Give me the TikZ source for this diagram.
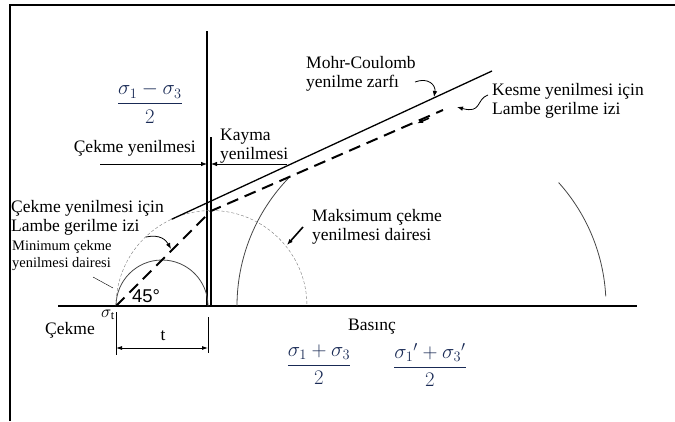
\documentclass[tikz,border=0pt]{standalone}
\usepackage{fontspec}
\setmainfont{Liberation Serif}
\setsansfont{Liberation Sans}
\usepackage{amsmath}
\usepackage{tikz}
\usetikzlibrary{arrows.meta, positioning, calc}
\definecolor{eqnavy}{RGB}{25,42,85}
\definecolor{arcgray}{RGB}{70,70,70}
\definecolor{dotgray}{RGB}{120,120,120}
\newcommand{\lblsize}{\fontsize{17.5}{19.5}\selectfont}
\newcommand{\smlsize}{\fontsize{14.5}{17}\selectfont}
\newcommand{\eqsize}{\fontsize{19.5}{22}\selectfont}

\begin{document}
\begin{tikzpicture}[x=1pt, y=1pt, every node/.style={font=\lblsize, inner sep=0pt},
  tip/.style={-{Latex[length=6pt, width=4.5pt]}},
  lambedash/.style={line width=2pt, dash pattern=on 12pt off 7pt},
  eqn/.style={text=eqnavy, font=\eqsize}]
  \useasboundingbox (0,0) rectangle (675,421);
  % Frame
  \draw[line width=1.4pt] (10,0) -- (10,416) -- (675,416);
  % Axes
  \coordinate (O) at (116,115);
  \draw[line width=1.8pt] (58,115) -- (637,115);
  \draw[line width=1.4pt] (207,115) -- (207,390);
  \draw[line width=1.2pt] (211,115) -- (211,284);
  % Circles
  \draw[thick, arcgray] (O) arc[start angle=180, end angle=0, radius=46];
  \draw[dotgray, densely dashed] (O) arc[start angle=180, end angle=0, radius=95.5];
  \draw[thick, arcgray] (237,115) arc[start angle=180, end angle=136, radius=184.5];
  \draw[thick, arcgray] ($(421.5,115)+(42:184.5)$) arc[start angle=42, end angle=3, radius=184.5];
  % Mohr-Coulomb envelope
  \coordinate (mcstart) at (171.6,201.7);
  \coordinate (mcend) at (492,350);
  \draw[line width=1.3pt] (mcstart) -- (mcend);
  % Lambe stress path
  \coordinate (kfknee) at (211,210);
  \coordinate (kfend) at (443,311);
  \draw[lambedash] (O) -- (kfknee) -- (kfend);
  \coordinate (kfarrA) at (429,302.8);
  \coordinate (kfarrB) at (417,297.6);
  \draw[tip, line width=1.5pt] (kfarrA) -- (kfarrB);
  % Labels
  \node[eqn] (sdfrac) at (150,318) {$\dfrac{\sigma_1-\sigma_3}{2}$};
  \node[anchor=east] (cekmeyen) at (196,273) {Çekme yenilmesi};
  \node[anchor=west, align=left] (kayma) at (220,275) {Kayma\\yenilmesi};
  \coordinate (cyL) at (100,257);
  \coordinate (cyR) at (207,257);
  \coordinate (kyR) at (287,257);
  \coordinate (kyL) at (211,257);
  \draw[tip, thick] (cyL) -- (cyR);
  \draw[tip, thick] (kyR) -- (kyL);
  \node[anchor=west, align=left] (mohr) at (306,347) {Mohr-Coulomb\\yenilme zarfı};
  \coordinate (mohrA) at (415,339);
  \coordinate (mohrB) at (434,324);
  \draw[tip, thick] (mohrA) .. controls (428,344) and (436,336) .. (mohrB);
  \node[anchor=west, align=left] (kesme) at (492,320) {Kesme yenilmesi için\\Lambe gerilme izi};
  \coordinate (kesA) at (488,326);
  \coordinate (kesB) at (457,314);
  \draw[tip, thick] (kesA) .. controls (476,322) and (482,307) .. (kesB);
  \node[anchor=west, align=left] (cekmelambe) at (11,203) {Çekme yenilmesi için\\Lambe gerilme izi};
  \coordinate (clA) at (146,184);
  \coordinate (clB) at (171,172);
  \draw[tip, thick] (clA) .. controls (160,187) and (166,181) .. (clB);
  \node[anchor=west, align=left, font=\smlsize] (mincekme) at (12,165) {Minimum çekme\\yenilmesi dairesi};
  \coordinate (minA) at (93,144);
  \coordinate (minB) at (113,133);
  \draw (minA) -- (minB);
  \node[anchor=west, align=left] (maxcekme) at (312,194) {Maksimum çekme\\yenilmesi dairesi};
  \coordinate (maxA) at (303,194);
  \coordinate (maxB) at (287,176);
  \draw[tip, line width=1.6pt] (maxA) -- (maxB);
  \node[font=\sffamily\fontsize{18.5}{20}\selectfont] (aci) at (146,125) {45°};
  \node (sigmat) at (108,106) {$\sigma_{\mathrm{t}}$};
  \node (cekme) at (70,91) {Çekme};
  % Dimension t
  \coordinate (tL) at (116,73);
  \coordinate (tR) at (208,73);
  \draw[thick] (116,109) -- (116,66);
  \draw[thick] (208,104) -- (208,68);
  \draw[{Latex[length=6pt, width=4pt]}-{Latex[length=6pt, width=4pt]}, thick] (tL) -- (tR);
  \node (tlbl) at (163,85) {t};
  \node (basinc) at (372,94) {Basınç};
  \node[eqn] (ortfrac) at (319,56) {$\dfrac{\sigma_1+\sigma_3}{2}$};
  \node[eqn] (ortfracb) at (430,56) {$\dfrac{\sigma_1{}'+\sigma_3{}'}{2}$};
\end{tikzpicture}
\end{document}
